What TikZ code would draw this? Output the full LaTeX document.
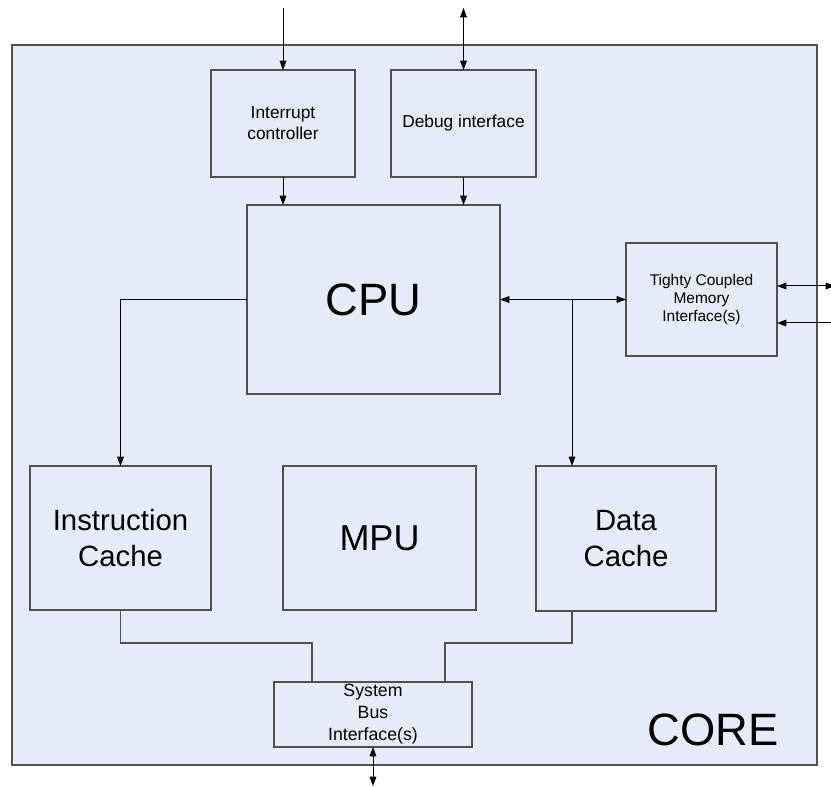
\documentclass[tikz,border=0pt]{standalone}
\usepackage{fontspec}
\setmainfont{Liberation Sans}
\usetikzlibrary{arrows.meta}

\definecolor{corefill}{RGB}{230,236,247}
\definecolor{boxgray}{RGB}{80,80,80}

\tikzset{every picture/.style={line width=0.75pt}}
\tikzset{
  blk/.style={draw=boxgray, fill=corefill, line width=1pt, inner sep=0pt, outer sep=0pt, align=center},
  bus/.style={draw=boxgray, line width=1pt},
  sig/.style={-{Triangle[length=7pt,width=5pt]}},
  sigb/.style={{Triangle[length=7pt,width=5pt]}-{Triangle[length=7pt,width=5pt]}}
}

\begin{document}
\begin{tikzpicture}[x=0.75pt,y=0.75pt,yscale=-1,xscale=1]
\useasboundingbox (0,0) rectangle (831,787);

%core outline
\node [blk, minimum width=603.75pt, minimum height=540pt] (core) at (414.5,405) {};
\node [font=\fontsize{34}{40}\selectfont] (corelbl) at (713,730) {CORE};

%top blocks
\node [blk, minimum width=108pt, minimum height=80.25pt, font=\fontsize{13}{15.75}\selectfont] (intr) at (283,123.5) {Interrupt\\controller};
\node [blk, minimum width=108.75pt, minimum height=80.25pt, font=\fontsize{13}{15.75}\selectfont] (dbg) at (463.5,123.5) {Debug interface};
\node [blk, minimum width=189.75pt, minimum height=141.75pt, font=\fontsize{34}{40}\selectfont] (cpu) at (373.5,299.5) {CPU};
\node [blk, minimum width=113.25pt, minimum height=84.75pt, font=\fontsize{11.6}{13.5}\selectfont] (tcm) at (701.5,299.5) {Tighty Coupled\\Memory\\Interface(s)};

%caches and mpu
\node [blk, minimum width=135.75pt, minimum height=108pt, font=\fontsize{22}{27}\selectfont] (icache) at (120.5,538) {Instruction\\Cache};
\node [blk, minimum width=144.75pt, minimum height=108pt, font=\fontsize{27}{32}\selectfont] (mpu) at (379.5,538) {MPU};
\node [blk, minimum width=135pt, minimum height=108.75pt, font=\fontsize{22}{27}\selectfont] (dcache) at (626,538.5) {Data\\Cache};
\node [blk, minimum width=148.5pt, minimum height=48.75pt, font=\fontsize{13.3}{16.5}\selectfont] (sbi) at (373,714.5) {System\\Bus\\Interface(s)};

%free ends and bends
\coordinate (irqin) at (283,8);
\coordinate (dbgio) at (463.5,8);
\coordinate (br) at (572,299.5);
\coordinate (tcmio) at (835,286);
\coordinate (tcmin) at (835,323);
\coordinate (ib) at (312,643);
\coordinate (db) at (445,643);
\coordinate (sbiio) at (373,786);

\draw [sig] (irqin) -- (intr.north);
\draw [sigb] (dbgio) -- (dbg.north);
\draw [sig] (intr.south) -- (intr.south |- cpu.north);
\draw [sig] (dbg.south) -- (dbg.south |- cpu.north);
\draw [sigb] (cpu.east) -- (tcm.west);
\draw [sig] (br) -- (br |- dcache.north);
\draw [sig] (cpu.west) -| (icache.north);
\draw [sigb] (tcm.east |- tcmio) -- (tcmio);
\draw [sig] (tcmin) -- (tcm.east |- tcmin);

\draw [bus] (icache.south) |- (ib) -- (ib |- sbi.north);
\draw [bus] (br |- dcache.south) |- (db) -- (db |- sbi.north);
\draw [sigb] (sbi.south) -- (sbiio);

\end{tikzpicture}
\end{document}
